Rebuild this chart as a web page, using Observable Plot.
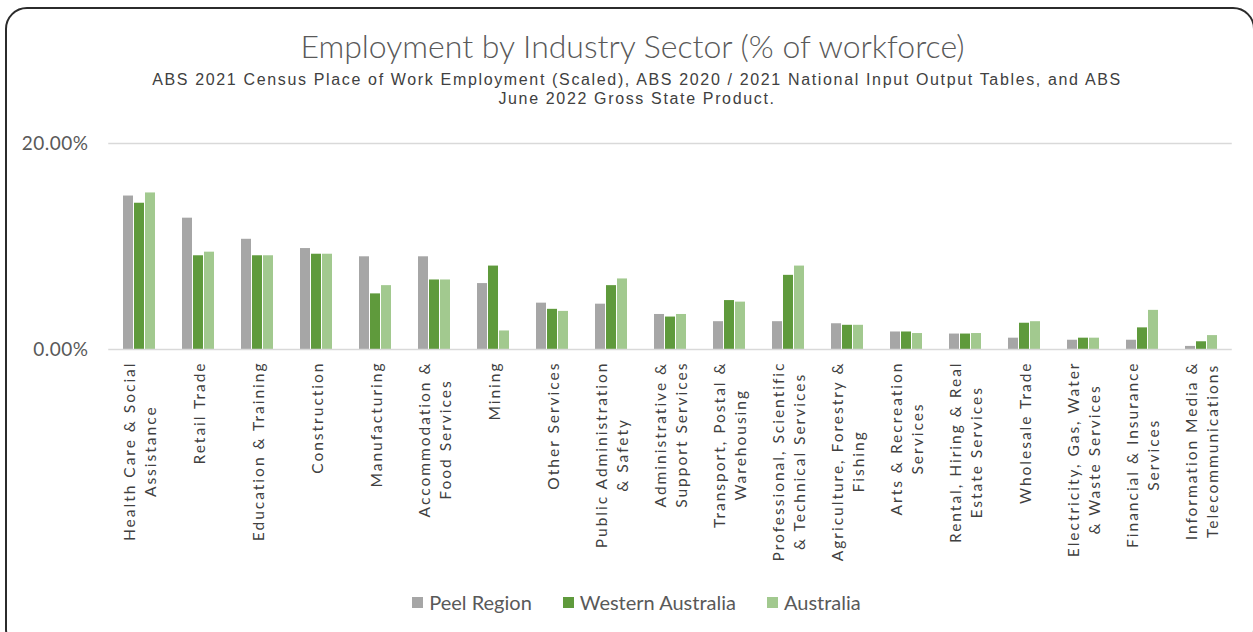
<!DOCTYPE html>
<html>
<head>
<meta charset="utf-8">
<script src="https://cdn.jsdelivr.net/npm/d3@7"></script>
<script src="https://cdn.jsdelivr.net/npm/@observablehq/plot@0.6"></script>
<style>
  html, body { margin: 0; padding: 0; background: #fff; width: 1253px; height: 632px; overflow: hidden; }
  #frame { position: absolute; left: 5px; top: 7px; width: 1250px; height: 645px; border: 2.5px solid #2b2b2b; border-radius: 22px; box-sizing: border-box; }
  #title { position: absolute; left: 0; width: 1265px; top: 27px; text-align: center; font-family: Lato, "Open Sans", sans-serif; font-weight: 300; font-size: 32px; color: #595959; line-height: 38px; }
  #subtitle { position: absolute; left: 0; width: 1274px; top: 70px; text-align: center; font-family: "Liberation Sans", Arial, sans-serif; font-size: 16px; letter-spacing: 1.65px; color: #404040; line-height: 19px; }
  #chart { position: absolute; left: 0; top: 120px; }
  #chart g[aria-label="fx-axis tick label"] { letter-spacing: 2px; }
  #chart g[aria-label="y-axis tick label"] { letter-spacing: 0.5px; }
  #legend { position: absolute; left: 0; width: 1273px; top: 590px; display: flex; justify-content: center; gap: 31px; font-family: Lato, "Open Sans", sans-serif; font-size: 20px; color: #595959; }
  #legend .item { display: flex; align-items: center; gap: 6px; }
  #legend .sw { width: 11px; height: 11px; display: inline-block; }
</style>
</head>
<body>
<div id="frame"></div>
<div id="title">Employment by Industry Sector (% of workforce)</div>
<div id="subtitle">ABS 2021 Census Place of Work Employment (Scaled), ABS 2020 / 2021 National Input Output Tables, and ABS<br>June 2022 Gross State Product.</div>
<div id="chart"></div>
<div id="legend"></div>
<script>
const categories = [
  "Health Care & Social Assistance", "Retail Trade", "Education & Training", "Construction",
  "Manufacturing", "Accommodation & Food Services", "Mining", "Other Services",
  "Public Administration & Safety", "Administrative & Support Services",
  "Transport, Postal & Warehousing", "Professional, Scientific & Technical Services",
  "Agriculture, Forestry & Fishing", "Arts & Recreation Services",
  "Rental, Hiring & Real Estate Services", "Wholesale Trade",
  "Electricity, Gas, Water & Waste Services", "Financial & Insurance Services",
  "Information Media & Telecommunications"
];
const tickLabels = [
  "Health Care & Social\nAssistance", "Retail Trade", "Education & Training", "Construction",
  "Manufacturing", "Accommodation &\nFood Services", "Mining", "Other Services",
  "Public Administration\n& Safety", "Administrative &\nSupport Services",
  "Transport, Postal &\nWarehousing", "Professional, Scientific\n& Technical Services",
  "Agriculture, Forestry &\nFishing", "Arts & Recreation\nServices",
  "Rental, Hiring & Real\nEstate Services", "Wholesale Trade",
  "Electricity, Gas, Water\n& Waste Services", "Financial & Insurance\nServices",
  "Information Media &\nTelecommunications"
];
const seriesNames = ["Peel Region", "Western Australia", "Australia"];
const peelRegion       = [14.9, 12.75, 10.7, 9.8, 9.0, 9.0, 6.4, 4.5, 4.4, 3.4, 2.7, 2.7, 2.5, 1.7, 1.5, 1.1, 0.9, 0.9, 0.3];
const westernAustralia = [14.2, 9.1, 9.1, 9.25, 5.4, 6.75, 8.1, 3.9, 6.2, 3.15, 4.75, 7.2, 2.35, 1.7, 1.5, 2.55, 1.1, 2.1, 0.75];
const australia        = [15.2, 9.45, 9.1, 9.25, 6.2, 6.75, 1.8, 3.7, 6.85, 3.4, 4.6, 8.1, 2.35, 1.55, 1.55, 2.7, 1.1, 3.8, 1.35];
const yTicks = [0, 20];
const colors = ["#a6a6a6", "#5f9a3c", "#a2c98f"];

const seriesValues = [peelRegion, westernAustralia, australia];
const data = categories.flatMap((c, i) =>
  seriesNames.map((s, j) => ({category: c, series: s, value: seriesValues[j][i]}))
);
const labelOf = new Map(categories.map((c, i) => [c, tickLabels[i]]));

const chart = Plot.plot({
  width: 1253,
  height: 460,
  marginLeft: 107,
  marginRight: 22,
  marginTop: 23,
  marginBottom: 231,
  style: {fontFamily: "Lato, 'Open Sans', sans-serif", background: "transparent"},
  fx: {domain: categories, paddingInner: 0.38, paddingOuter: 0.19, label: null},
  x: {domain: seriesNames, padding: 0.12, axis: null},
  y: {domain: [0, 20], label: null},
  color: {domain: seriesNames, range: colors},
  marks: [
    Plot.frame({anchor: "top", stroke: "#d9d9d9", strokeWidth: 1.5, facet: "super", insetLeft: -11.5, insetRight: -11.5}),
    Plot.barY(data, {fx: "category", x: "series", y: "value", fill: "series"}),
    Plot.frame({anchor: "bottom", stroke: "#d9d9d9", strokeWidth: 1.5, facet: "super", insetLeft: -11.5, insetRight: -11.5}),
    Plot.axisY({ticks: yTicks, tickSize: 0, tickPadding: 32, tickFormat: d => d.toFixed(2) + "%", fontSize: 19, fill: "#595959", label: null}),
    Plot.axisFx({anchor: "bottom", tickRotate: -90, tickSize: 0, tickPadding: 12, fontSize: 15.5, lineHeight: 1.35, fill: "#404040", tickFormat: c => labelOf.get(c), label: null})
  ]
});
document.getElementById("chart").appendChild(chart);

// Centre each line of a wrapped category label (block still hangs from the axis)
chart.querySelectorAll('g[aria-label="fx-axis tick label"] text').forEach(t => {
  const w = t.getBBox().width;
  t.setAttribute("text-anchor", "middle");
  const spans = t.querySelectorAll("tspan");
  if (spans.length) spans.forEach(s => s.setAttribute("x", -w / 2));
  else t.setAttribute("x", -w / 2);
});

const legend = document.getElementById("legend");
seriesNames.forEach((s, i) => {
  const item = document.createElement("div");
  item.className = "item";
  const sw = document.createElement("span");
  sw.className = "sw";
  sw.style.background = colors[i];
  const t = document.createElement("span");
  t.textContent = s;
  item.appendChild(sw);
  item.appendChild(t);
  legend.appendChild(item);
});
</script>
</body>
</html>
